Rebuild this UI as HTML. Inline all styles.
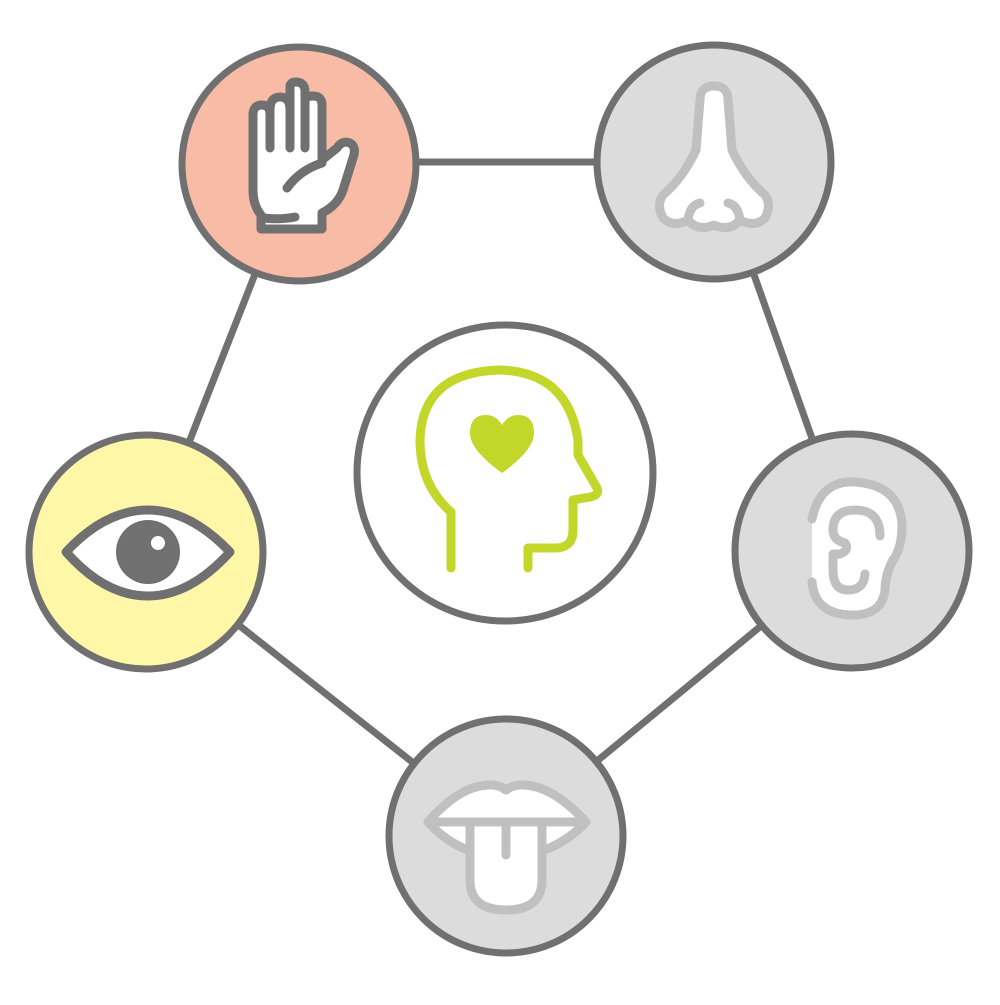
<!DOCTYPE html>
<html><head><style>html,body{margin:0;padding:0;background:#fff}</style></head>
<body>
<svg width="1000" height="1000" viewBox="0 0 1000 1000" xmlns="http://www.w3.org/2000/svg">
<g stroke="#707070" stroke-width="7" fill="none">
<line x1="299" y1="162" x2="714" y2="162"/>
<line x1="714" y1="162" x2="852" y2="551"/>
<line x1="852" y1="551" x2="506" y2="836"/>
<line x1="506" y1="836" x2="146" y2="552"/>
<line x1="146" y1="552" x2="299" y2="162"/>
</g>
<g stroke="#707070" stroke-width="7">
<circle cx="299" cy="164" r="117" fill="#f7bba6"/>
<circle cx="714" cy="162" r="117" fill="#dcdcdc"/>
<circle cx="852" cy="551" r="117" fill="#dcdcdc"/>
<circle cx="506" cy="836" r="117" fill="#dcdcdc"/>
<circle cx="146" cy="552" r="117" fill="#fff7a8"/>
<circle cx="505" cy="473" r="148" fill="#fff"/>
</g>
<!-- hand -->
<g stroke="#707070" stroke-width="9" stroke-linecap="round" stroke-linejoin="round">
<path d="M261 229 L261 215 Q253 205 253 190 L253 115 Q253 105 262 105 Q270 105 270 115 L270 110 Q270 97 280 97 Q290 97 290 110 L290 87 Q290 82 296 82 Q305 82 305 92 L305 102 Q305 96 313 96 Q322 96 322 105 L322 160 L337 148 Q342 140 350 143 Q357 147 353 158 L343 190 Q338 205 322 213 L322 229 Z" fill="#fff"/>
<path d="M270 115 L270 148 M290 110 L290 148 M305 102 L305 148 M287 188 Q300 170 322 163"/>
<path d="M264 218 Q280 220 295 217" />
</g>
<!-- nose -->
<g stroke="#c0c0c0" stroke-width="9" stroke-linecap="round" stroke-linejoin="round" fill="#fff">
<path d="M700 100 Q700 86 714 86 Q728 86 728 100 L732 150 Q745 178 765 195 Q772 205 765 218 Q755 228 740 220 Q730 232 714 225 Q698 232 688 220 Q673 228 663 218 Q656 205 663 195 Q683 178 696 150 Z"/>
<path d="M688 220 Q690 205 700 203 M740 220 Q738 205 728 203" fill="none"/>
</g>
<!-- ear -->
<g stroke="#c0c0c0" stroke-width="9" stroke-linecap="round" stroke-linejoin="round" fill="none">
<path d="M812 519 Q820 480 855 482 Q900 485 902 525 Q902 548 893 560 Q885 575 885 590 Q882 615 853 615 Q815 615 812 582" fill="#fff" stroke="none"/>
<path d="M812 519 Q820 480 855 482 Q900 485 902 525 Q902 548 893 560 Q885 575 885 590 Q882 615 853 615 Q815 615 812 582"/>
<path d="M880 536 Q880 510 855 510 Q833 510 833 530 Q833 540 845 543 Q850 550 840 554 L833 554 L833 570 Q833 590 848 590 Q864 590 865 574"/>
</g>
<!-- lips -->
<g stroke="#c0c0c0" stroke-width="9" stroke-linecap="round" stroke-linejoin="round" fill="#fff">
<path d="M428 822 Q460 785 490 785 Q500 785 506 790 Q512 785 522 785 Q552 785 586 822 Q555 855 506 858 Q457 855 428 822 Z"/>
<path d="M428 822 L586 822" fill="none"/>
<path d="M470 822 L470 880 Q470 910 506 910 Q542 910 542 880 L542 822 Z"/>
<path d="M506 822 L506 855" fill="none"/>
</g>
<!-- eye -->
<path d="M66 552 Q105 510 148 510 Q190 510 230 552 Q190 596 148 596 Q105 596 66 552 Z" fill="#fff" stroke="#707070" stroke-width="9" stroke-linejoin="round"/>
<circle cx="148" cy="552" r="32" fill="#707070"/>
<circle cx="158" cy="543" r="7" fill="#fff"/>
<!-- head -->
<g stroke="#c3d62a" stroke-width="9" stroke-linecap="round" stroke-linejoin="round" fill="none">
<path d="M451 568 L451 512 Q420 485 420 440 Q422 372 500 370 Q568 372 578 440 L578 455 L597 488 Q600 495 590 497 L573 500 L573 530 Q573 548 555 548 L528 548 L528 568"/>
</g>
<path d="M502 473 Q470 450 470 433 Q470 415 486 415 Q496 415 502 425 Q508 415 518 415 Q534 415 534 433 Q534 450 502 473 Z" fill="#c3d62a"/>
</svg>
</body></html>
